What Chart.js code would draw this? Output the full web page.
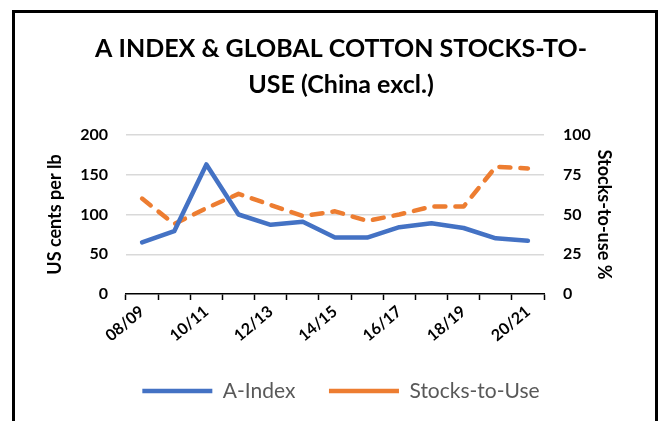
<!DOCTYPE html>
<html>
<head>
<meta charset="utf-8">
<script src="https://cdn.jsdelivr.net/npm/chart.js@4/dist/chart.umd.min.js"></script>
<style>
  html, body { margin: 0; padding: 0; background: #fff; overflow: hidden; }
  #wrap { position: relative; width: 660px; height: 421px; }
  #frame { position: absolute; left: 12px; top: 10px; width: 646px; height: 440px; border: 3px solid #000; box-sizing: border-box; pointer-events: none; }
  canvas { position: absolute; left: 0; top: 0; }
</style>
</head>
<body>
<div id="wrap">
  <canvas id="c" width="660" height="421"></canvas>
  <div id="frame"></div>
</div>
<script>
const categories = ['08/09','09/10','10/11','11/12','12/13','13/14','14/15','15/16','16/17','17/18','18/19','19/20','20/21'];
const aIndex = [65, 79, 163, 100, 87, 91, 71, 71, 84, 89, 83, 70, 67];
const stocksToUse = [60, 44, 54, 63, 56, 49, 52, 46, 50, 55, 55, 80, 79];
const leftTicks = [0, 50, 100, 150, 200];
const rightTicks = [0, 25, 50, 75, 100];
const titleLines = ['A INDEX & GLOBAL COTTON STOCKS-TO-', 'USE (China excl.)'];
const seriesNames = ['A-Index', 'Stocks-to-Use'];

const FONT = 'Lato';

new Chart(document.getElementById('c'), {
  type: 'line',
  data: {
    labels: categories,
    datasets: [
      {
        label: seriesNames[0],
        data: aIndex,
        yAxisID: 'y',
        borderColor: '#4472C4',
        backgroundColor: '#4472C4',
        borderWidth: 4.5,
        borderJoinStyle: 'round',
        borderCapStyle: 'round',
        pointRadius: 0,
        tension: 0
      },
      {
        label: seriesNames[1],
        data: stocksToUse,
        yAxisID: 'y2',
        borderColor: '#ED7D31',
        backgroundColor: '#ED7D31',
        borderWidth: 4.5,
        borderDash: [11, 10],
        borderJoinStyle: 'round',
        borderCapStyle: 'round',
        pointRadius: 0,
        tension: 0
      }
    ]
  },
  options: {
    responsive: false,
    animation: false,
    layout: { padding: { left: 40, right: 18, top: 0, bottom: 9.5 } },
    plugins: {
      title: {
        display: true,
        text: titleLines,
        color: '#000',
        font: { family: FONT, size: 25, weight: 'bold', lineHeight: 1.45 },
        padding: { top: 31, bottom: 31.5 }
      },
      legend: {
        position: 'bottom',
        labels: {
          usePointStyle: true,
          pointStyle: 'line',
          pointStyleWidth: 70,
          padding: 12,
          color: '#595959',
          font: { family: FONT, size: 21 },
          generateLabels: (chart) => {
            const items = Chart.defaults.plugins.legend.labels.generateLabels(chart);
            items.forEach((it, i) => {
              it.pointStyle = 'line';
              if (i < items.length - 1) it.text = it.text + '\u00A0\u00A0\u00A0\u00A0';
            });
            return items;
          }
        }
      },
      tooltip: { enabled: false }
    },
    scales: {
      x: {
        type: 'category',
        offset: true,
        grid: { display: true, drawOnChartArea: false, offset: true, color: '#000', tickLength: 6, tickWidth: 1.5 },
        border: { display: true, color: '#000', width: 1.5 },
        ticks: {
          autoSkip: false,
          minRotation: 40,
          maxRotation: 40,
          padding: 2,
          color: '#000',
          font: { family: FONT, size: 16, weight: 'bold' },
          callback: (v, i) => (i % 2 === 0 ? categories[i] : '')
        },
        afterFit: (s) => { s.height = 74.5; }
      },
      y: {
        position: 'left',
        min: 0, max: 200,
        afterBuildTicks: (s) => { s.ticks = leftTicks.map(v => ({ value: v })); },
        grid: { color: (ctx) => ctx.tick && ctx.tick.value === 0 ? 'rgba(0,0,0,0)' : '#D9D9D9', lineWidth: 1.5, drawTicks: false },
        border: { display: false },
        ticks: { padding: 18, color: '#000', font: { family: FONT, size: 16, weight: 'bold' } },
        title: { display: true, text: 'US cents per lb', color: '#000', font: { family: FONT, size: 18, weight: 'bold' }, padding: 4 },
        afterFit: (s) => { s.width = 86; }
      },
      y2: {
        position: 'right',
        min: 0, max: 100,
        afterBuildTicks: (s) => { s.ticks = rightTicks.map(v => ({ value: v })); },
        grid: { drawOnChartArea: false, drawTicks: false },
        border: { display: false },
        ticks: { padding: 19, color: '#000', font: { family: FONT, size: 16, weight: 'bold' } },
        title: { display: true, text: 'Stocks-to-use %', color: '#000', font: { family: FONT, size: 18, weight: 'bold' }, padding: { top: 27, bottom: 4 } },
        afterFit: (s) => { s.width = 98; }
      }
    }
  }
});
</script>
</body>
</html>
